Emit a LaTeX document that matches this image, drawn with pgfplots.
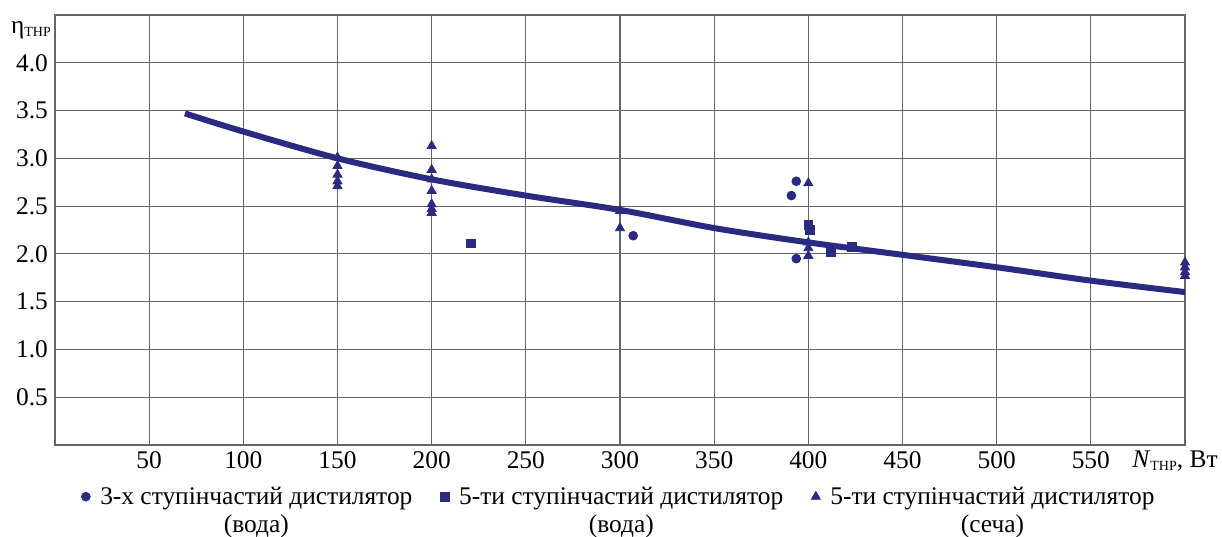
\documentclass[border=0pt]{standalone}
\usepackage{pgfplots}
\pgfplotsset{compat=1.18}
\usepackage{fontspec}
\setmainfont{Liberation Serif}
\definecolor{navy}{RGB}{42,42,128}
\newcommand{\fs}{\fontsize{12.7}{14}\selectfont}
\newcommand{\subs}[1]{\raisebox{-0.25ex}{\fontsize{7}{8}\selectfont #1}}
\begin{document}
\begin{tikzpicture}
\begin{axis}[name=ax, scale only axis, width=565pt, height=215pt,
 xmin=0, xmax=600, ymin=0, ymax=4.5,
 xtick={50,100,150,200,250,300,350,400,450,500,550},
 ytick={0.5,1.0,1.5,2.0,2.5,3.0,3.5,4.0},
 grid=major, grid style={black!60, line width=0.6pt},
 axis line style={black!60, line width=0.6pt},
 major tick length=0pt,
 /pgf/number format/assume math mode=true,
 xticklabel style={font=\fs, /pgf/number format/.cd, fixed, precision=0},
 yticklabel style={font=\fs, /pgf/number format/.cd, fixed, fixed zerofill, precision=1},
 legend columns=3,
 legend style={at={(0.5,0)}, anchor=north, yshift=-16pt, draw=none, fill=none, font=\fs,
   /tikz/every odd column/.append style={column sep=3pt},
   /tikz/every even column/.append style={column sep=12pt}},
 legend cell align=left,
]
\addplot[navy, line width=3pt, smooth, forget plot] coordinates {
 (69,3.47) (100,3.28) (150,3.0) (200,2.78) (250,2.61) (300,2.46) (350,2.27)
 (400,2.12) (450,1.99) (500,1.86) (550,1.72) (600,1.60)};
\addplot[only marks, mark=*, mark size=2.2pt, navy, mark options={fill=navy}] coordinates {
 (307,2.19) (391,2.61) (393.6,2.76) (393.6,1.95)};
\addlegendentry{\begin{tabular}[t]{@{}c@{}}3-х ступінчастий дистилятор\\(вода)\end{tabular}}
\addplot[only marks, mark=square*, mark size=2.2pt, navy, mark options={fill=navy}] coordinates {
 (221,2.11) (400,2.30) (401,2.25) (412,2.02) (423,2.07)};
\addlegendentry{\begin{tabular}[t]{@{}c@{}}5-ти ступінчастий дистилятор\\(вода)\end{tabular}}
\addplot[only marks, mark=triangle*, mark size=2.6pt, navy, mark options={fill=navy}] coordinates {
 (150,3.01) (150,2.92) (150,2.83) (150,2.76) (150,2.71)
 (200,3.13) (200,2.88) (200,2.78) (200,2.66) (200,2.52) (200,2.47) (200,2.43)
 (300,2.45) (300,2.27)
 (400,2.74) (400,2.12) (400,2.06) (400,1.98)
 (600,1.91) (600,1.86) (600,1.81) (600,1.77)};
\addlegendentry{\begin{tabular}[t]{@{}c@{}}5-ти ступінчастий дистилятор\\(сеча)\end{tabular}}
\end{axis}
\node[anchor=base east, font=\fs, inner sep=0pt] at ([xshift=16.5pt,yshift=-11.25pt]ax.south east) {\textit{N}\subs{ТНР}, Вт};
\node[anchor=base, font=\fs, inner sep=0pt] at ([xshift=-12pt,yshift=-9.5pt]ax.north west) {η\subs{ТНР}};
\path ([xshift=-27.5pt,yshift=-46pt]ax.south west) rectangle ([xshift=18.5pt,yshift=7.5pt]ax.north east);
\end{tikzpicture}
\end{document}
